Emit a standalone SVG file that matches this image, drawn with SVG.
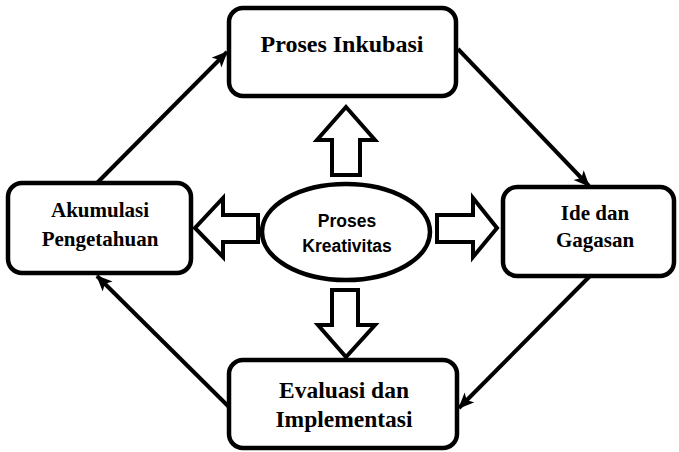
<svg xmlns="http://www.w3.org/2000/svg" width="679" height="452" viewBox="0 0 679 452">
  <style>
    .box { fill: #fff; stroke: #000; stroke-width: 4.5; }
    .lbl { font-family: "Liberation Serif", "Times New Roman", serif; font-weight: bold; fill: #000; text-anchor: middle; }
    .core { font-family: "Liberation Sans", Arial, sans-serif; font-weight: bold; font-size: 17.5px; fill: #000; text-anchor: middle; }
    .flow { stroke: #000; stroke-width: 4; fill: none; marker-end: url(#head); }
    .block { fill: #fff; stroke: #000; stroke-width: 4; stroke-linejoin: miter; }
  </style>
  <defs>
    <marker id="head" markerUnits="userSpaceOnUse" markerWidth="18" markerHeight="16" refX="15" refY="7" orient="auto">
      <path d="M0,0 L16,7 L0,14 L4,7 Z" fill="#000"/>
    </marker>
  </defs>

  <rect width="679" height="452" fill="#fff"/>

  <!-- cycle connectors -->
  <g id="connectors">
    <line class="flow" x1="97" y1="183" x2="227" y2="52"/>
    <line class="flow" x1="458" y1="49" x2="589" y2="186"/>
    <line class="flow" x1="590" y1="276" x2="459" y2="408"/>
    <line class="flow" x1="229" y1="407" x2="97" y2="276"/>
  </g>

  <!-- block arrows radiating from the centre -->
  <g id="block-arrows">
    <polygon class="block" points="332,175 360,175 360,140 375,140 346,107 317,140 332,140"/>
    <polygon class="block" points="332,290 358,290 358,325 375,325 346,357 318,325 332,325"/>
    <polygon class="block" points="258,215 258,242 223,242 223,257 195,228 223,198 223,215"/>
    <polygon class="block" points="437,215 437,242 473,242 473,257 497,228 473,198 473,215"/>
  </g>

  <g id="node-inkubasi">
    <rect class="box" x="229" y="8" width="227" height="88" rx="14"/>
    <text class="lbl" x="342" y="52" font-size="24">Proses Inkubasi</text>
  </g>

  <g id="node-akumulasi">
    <rect class="box" x="8" y="183" width="183" height="90" rx="14"/>
    <text class="lbl" x="100" y="217" font-size="21">Akumulasi</text>
    <text class="lbl" x="100" y="246" font-size="21">Pengetahuan</text>
  </g>

  <g id="node-ide">
    <rect class="box" x="503" y="187" width="171" height="89" rx="14"/>
    <text class="lbl" x="595" y="220" font-size="21">Ide dan</text>
    <text class="lbl" x="595" y="247" font-size="21">Gagasan</text>
  </g>

  <g id="node-evaluasi">
    <rect class="box" x="229" y="360" width="228" height="88" rx="14"/>
    <text class="lbl" x="344" y="398" font-size="23.5">Evaluasi dan</text>
    <text class="lbl" x="344" y="427" font-size="23.5">Implementasi</text>
  </g>

  <g id="node-kreativitas">
    <ellipse class="box" cx="346" cy="232" rx="84" ry="48"/>
    <text class="core" x="347" y="227">Proses</text>
    <text class="core" x="347" y="252">Kreativitas</text>
  </g>
</svg>
